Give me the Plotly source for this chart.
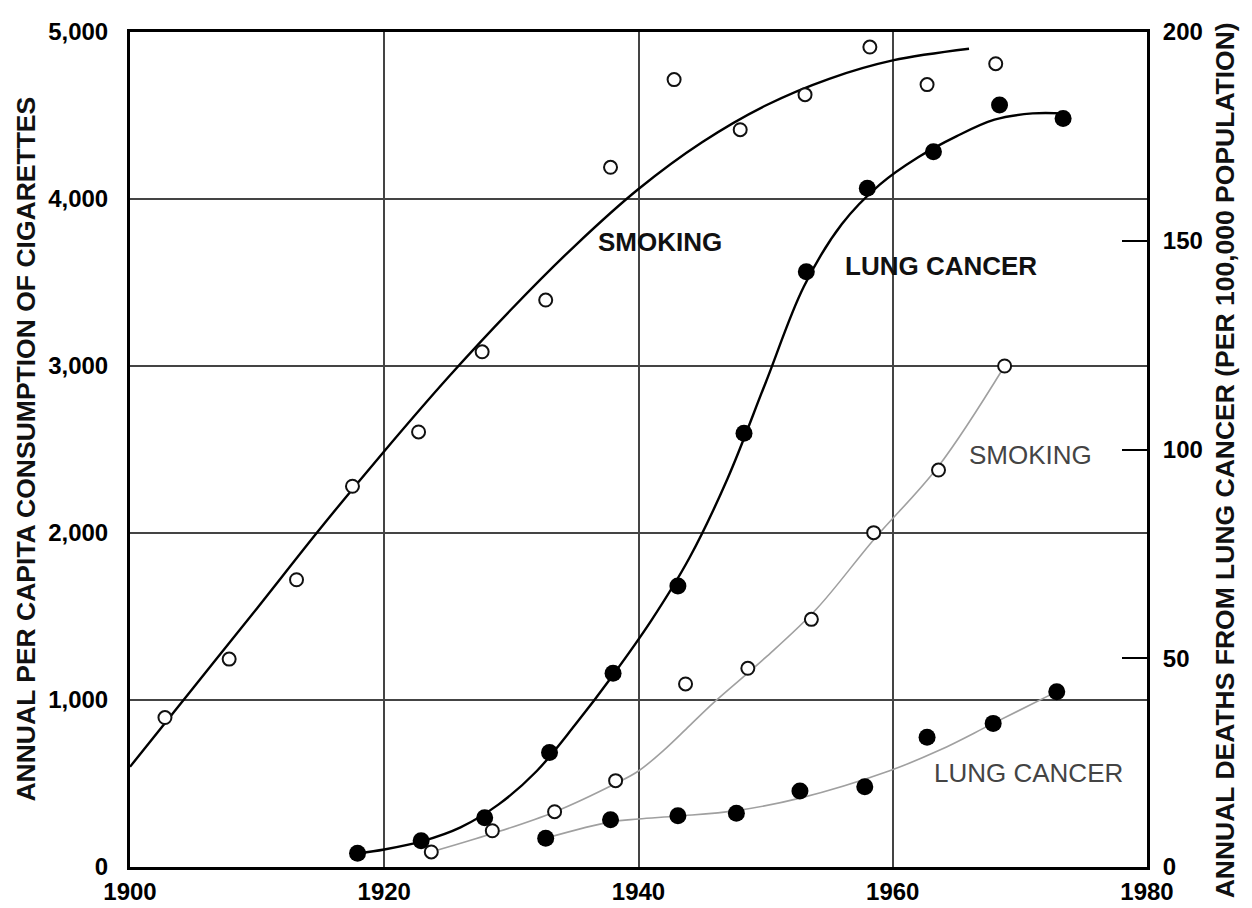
import plotly.graph_objects as go

# ---------------- data ----------------
# Men: cigarette consumption (left axis), open circles
m_smoke_years = [1902.75, 1907.8, 1913.1, 1917.5, 1922.7, 1927.7, 1932.7, 1937.8,
                 1942.8, 1948.0, 1953.1, 1958.2, 1962.7, 1968.1]
m_smoke_vals = [895, 1245, 1720, 2280, 2605, 3085, 3395, 4190,
                4715, 4415, 4625, 4910, 4685, 4810]
# hand-drawn trend curve for men smoking
m_smoke_fit_years = [1900, 1905, 1910, 1915, 1920, 1925, 1930, 1935, 1940,
                     1945, 1950, 1955, 1960, 1966]
m_smoke_fit_vals = [600, 1075, 1550, 2030, 2490, 2930, 3340, 3720, 4060,
                    4340, 4560, 4720, 4830, 4900]

# Men: lung cancer deaths per 100,000 (right axis), filled circles
m_lc_years = [1917.9, 1922.9, 1927.9, 1933.0, 1938.0, 1943.1, 1948.3, 1953.2,
              1958.0, 1963.2, 1968.4, 1973.4]
m_lc_vals = [3.3, 6.3, 11.8, 27.4, 46.4, 67.3, 103.9, 142.6,
             162.6, 171.3, 182.5, 179.3]
m_lc_fit_years = [1918, 1920, 1923, 1926, 1929, 1932, 1935, 1938, 1941, 1944,
                  1947, 1950, 1953, 1956, 1959, 1962, 1965, 1968, 1971, 1973.4]
m_lc_fit_vals = [3.3, 4.2, 6.2, 9.5, 15, 23, 34, 46, 59, 74,
                 93, 116, 139, 154, 163.5, 170, 175, 179, 180.5, 180.5]

# Women: cigarette consumption (left axis), open circles, light curve
f_smoke_years = [1923.7, 1928.5, 1933.4, 1938.2, 1943.7, 1948.6, 1953.6, 1958.5,
                 1963.6, 1968.8]
f_smoke_vals = [90, 217, 331, 517, 1096, 1190, 1483, 2002, 2377, 3000]
f_smoke_fit_years = [1923.7, 1928.5, 1933.4, 1938.2, 1940, 1942, 1944, 1946,
                     1950, 1954, 1958.5, 1963.6, 1968.8]
f_smoke_fit_vals = [90, 200, 330, 500, 575, 700, 845, 990,
                    1255, 1545, 1960, 2400, 3000]

# Women: lung cancer deaths (right axis), filled circles, light curve
f_lc_years = [1932.7, 1937.8, 1943.1, 1947.7, 1952.7, 1957.8, 1962.7, 1967.9, 1972.9]
f_lc_vals = [6.9, 11.3, 12.3, 12.9, 18.2, 19.2, 31.1, 34.4, 42.0]
f_lc_fit_years = [1932.7, 1937.8, 1940, 1943.1, 1947.7, 1952.7, 1959.7, 1963.7,
                  1967.9, 1972.9]
f_lc_fit_vals = [6.9, 10.8, 11.5, 12.2, 13.5, 16.5, 23.0, 28.0, 34.4, 42.0]

x_ticks = [1900, 1920, 1940, 1960, 1980]
y_ticks = [0, 1000, 2000, 3000, 4000, 5000]
y_ticktext = ["0", "1,000", "2,000", "3,000", "4,000", "5,000"]
y2_ticks = [0, 50, 100, 150, 200]

FONT = "Liberation Sans, Arial, Helvetica, sans-serif"
TICKFONT = dict(family=FONT, size=24, color="#000", weight="bold")
DARK = "#000000"
LIGHT = "#a0a0a0"

fig = go.Figure()

# light (women) curves first so dark ones sit on top
fig.add_trace(go.Scatter(x=f_smoke_fit_years, y=f_smoke_fit_vals, mode="lines",
                         line=dict(color=LIGHT, width=1.6, shape="spline", smoothing=1),
                         hoverinfo="skip", showlegend=False))
fig.add_trace(go.Scatter(x=f_lc_fit_years, y=f_lc_fit_vals, mode="lines", yaxis="y2",
                         line=dict(color=LIGHT, width=1.6, shape="spline", smoothing=1),
                         hoverinfo="skip", showlegend=False))
fig.add_trace(go.Scatter(x=m_smoke_fit_years, y=m_smoke_fit_vals, mode="lines",
                         line=dict(color=DARK, width=2.4, shape="spline", smoothing=1),
                         hoverinfo="skip", showlegend=False))
fig.add_trace(go.Scatter(x=m_lc_fit_years, y=m_lc_fit_vals, mode="lines", yaxis="y2",
                         line=dict(color=DARK, width=2.4, shape="spline", smoothing=1),
                         hoverinfo="skip", showlegend=False))

# markers
open_marker = dict(symbol="circle", size=13, color="white", line=dict(color="#111", width=2))
filled_marker = dict(symbol="circle", size=17, color="#000", line=dict(color="#000", width=0))

fig.add_trace(go.Scatter(x=f_smoke_years, y=f_smoke_vals, mode="markers",
                         marker=open_marker, name="Women smoking", showlegend=False))
fig.add_trace(go.Scatter(x=f_lc_years, y=f_lc_vals, mode="markers", yaxis="y2",
                         marker=filled_marker, name="Women lung cancer", showlegend=False))
fig.add_trace(go.Scatter(x=m_smoke_years, y=m_smoke_vals, mode="markers",
                         marker=open_marker, name="Men smoking", showlegend=False))
fig.add_trace(go.Scatter(x=m_lc_years, y=m_lc_vals, mode="markers", yaxis="y2",
                         marker=filled_marker, name="Men lung cancer", showlegend=False))

annotations = [
    dict(x=1941.7, y=3743, xref="x", yref="y", text="<b>SMOKING</b>", showarrow=False,
         font=dict(family=FONT, size=26, color="#111")),
    dict(x=1963.8, y=3599, xref="x", yref="y", text="<b>LUNG CANCER</b>", showarrow=False,
         font=dict(family=FONT, size=26, color="#111")),
    dict(x=1970.8, y=2467, xref="x", yref="y", text="SMOKING", showarrow=False,
         font=dict(family=FONT, size=26, color="#444")),
    dict(x=1970.7, y=563, xref="x", yref="y", text="LUNG CANCER", showarrow=False,
         font=dict(family=FONT, size=26, color="#444")),
    dict(x=-0.1032, y=0.5, xref="paper", yref="paper", xanchor="center", yanchor="middle",
         textangle=-90, showarrow=False,
         text="<b>ANNUAL PER CAPITA CONSUMPTION OF CIGARETTES</b>",
         font=dict(family=FONT, size=26.5, color="#111")),
    dict(x=1.0767, y=0.487, xref="paper", yref="paper", xanchor="center", yanchor="middle",
         textangle=-90, showarrow=False,
         text="<b>ANNUAL DEATHS FROM LUNG CANCER (PER 100,000 POPULATION)</b>",
         font=dict(family=FONT, size=26.5, color="#111")),
]

fig.update_layout(
    width=1252, height=908,
    margin=dict(l=130, r=105, t=32, b=41, pad=0, autoexpand=False),
    paper_bgcolor="white", plot_bgcolor="white",
    showlegend=False,
    font=dict(family=FONT, size=24, color="#000"),
    annotations=annotations,
    xaxis=dict(range=[1900, 1980], tickvals=x_ticks, showgrid=True, automargin=False,
               gridcolor="#444", gridwidth=1.5, zeroline=False,
               showline=True, linecolor="#000", linewidth=3, mirror=True,
               ticks="", ticklabelstandoff=1, tickfont=TICKFONT),
    yaxis=dict(range=[0, 5000], tickvals=y_ticks, ticktext=y_ticktext, showgrid=True,
               automargin=False,
               gridcolor="#444", gridwidth=1.5, zeroline=False,
               showline=True, linecolor="#000", linewidth=3, mirror=True,
               ticks="", ticklabelstandoff=14, tickfont=TICKFONT),
    yaxis2=dict(range=[0, 200], tickvals=y2_ticks, overlaying="y", side="right",
                automargin=False,
                showgrid=False, zeroline=False, showline=True, linecolor="#000",
                linewidth=3, ticks="inside", ticklen=25, tickwidth=2, tickcolor="#000",
                ticklabelstandoff=8, tickfont=TICKFONT),
)

fig.write_html("out.html", config={"displayModeBar": False},
               post_script="document.body.style.margin='0px';")
